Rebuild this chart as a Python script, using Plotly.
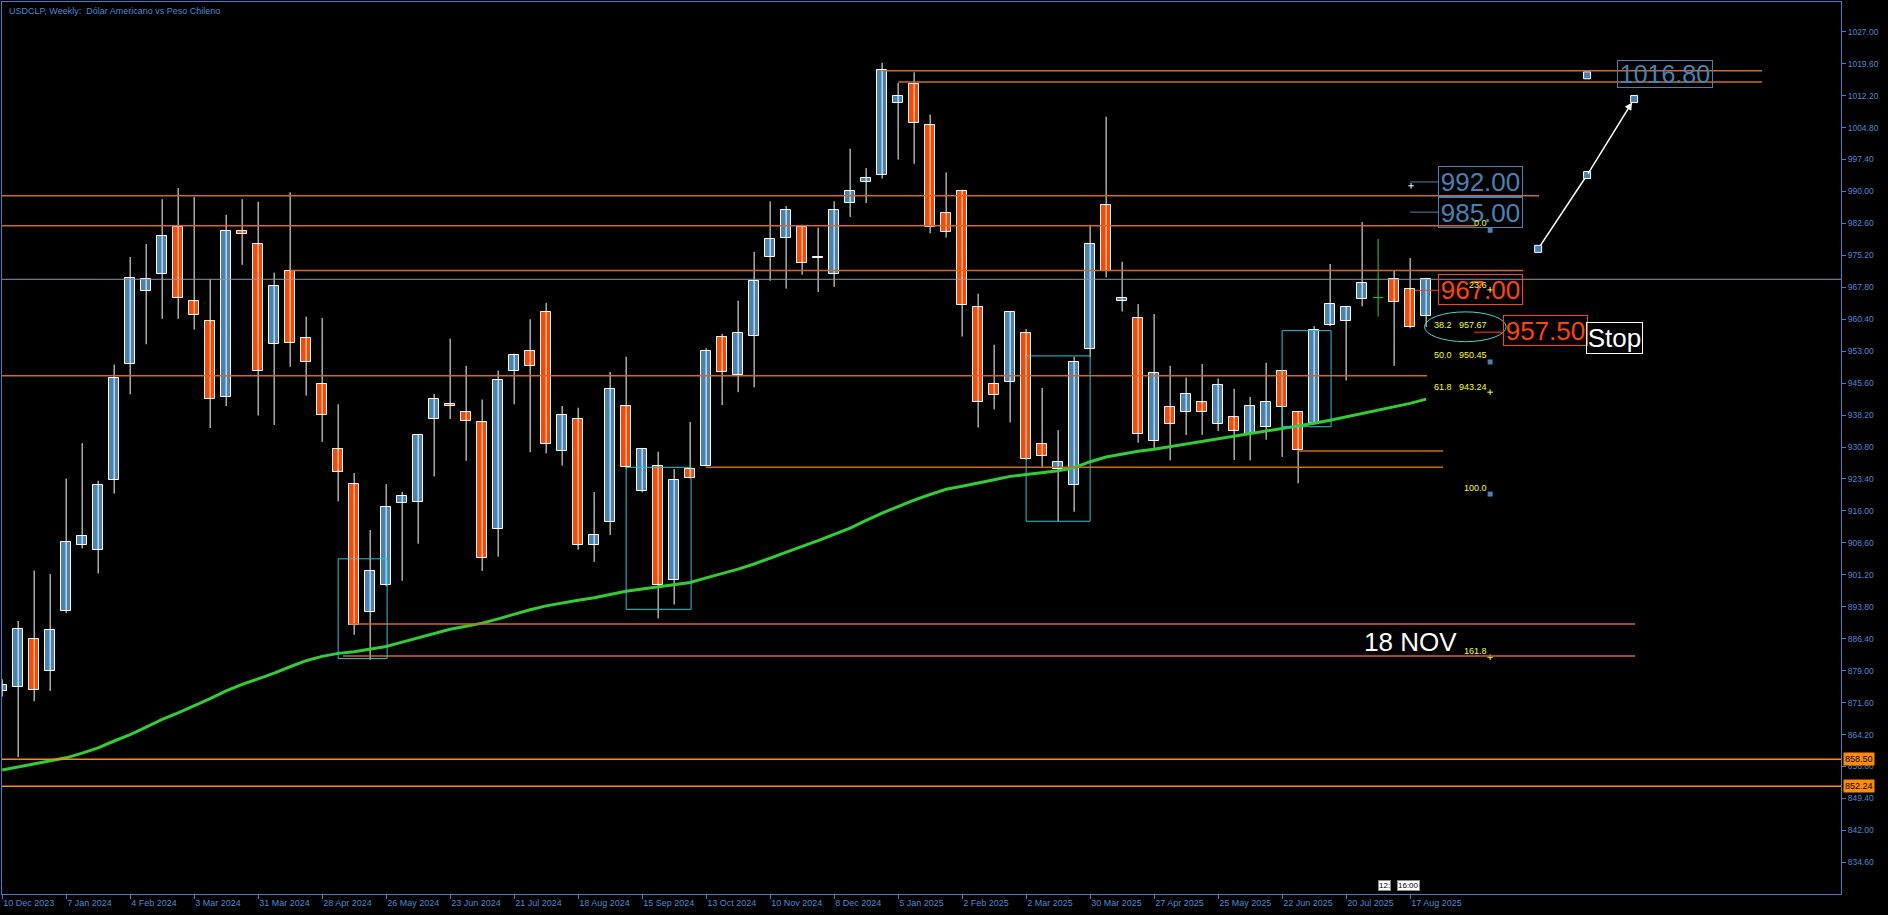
import pandas as pd
import plotly.graph_objects as go

# ---------------- data ----------------
start = pd.Timestamp("2023-12-10")
dates = pd.date_range(start, periods=90, freq="7D")

opens = [874.3, 875.1, 886.3, 879.0, 892.9, 908.0, 907.0, 923.2, 950.1, 967.0,
         970.9, 981.8, 964.6, 960.1, 942.3, 980.9, 977.8, 954.6, 971.5, 956.0,
         945.5, 930.4, 922.3, 892.5, 898.9, 917.8, 918.0, 937.4, 940.8, 938.8,
         936.7, 911.9, 948.3, 953.0, 962.0, 929.8, 937.4, 908.0, 913.5, 940.4,
         920.5, 926.3, 899.9, 925.6, 926.5, 956.2, 947.5, 956.6, 974.9, 979.3,
         981.8, 974.5, 970.9, 987.4, 992.3, 993.7, 1010.6, 1014.8, 1005.5, 985.1,
         990.2, 963.2, 945.3, 945.8, 957.3, 931.6, 925.6, 921.9, 953.6, 986.8,
         964.6, 960.6, 932.1, 940.0, 938.8, 941.2, 936.1, 937.7, 933.8, 935.5,
         948.5, 938.8, 936.3, 959.0, 959.9, 965.0, 965.4, 969.7, 967.3, 961.1]
highs = [877.0, 890.5, 902.2, 901.4, 923.5, 931.7, 923.0, 949.9, 974.8, 977.8,
         988.2, 990.8, 988.7, 969.7, 984.6, 988.2, 987.6, 971.2, 989.8, 961.0,
         960.7, 940.7, 924.8, 911.6, 922.2, 920.4, 933.8, 943.1, 955.9, 949.6,
         941.8, 948.5, 952.4, 960.4, 964.2, 940.3, 939.9, 920.4, 948.2, 951.7,
         930.6, 929.7, 925.7, 936.6, 953.7, 957.0, 964.7, 976.0, 987.7, 986.6,
         982.3, 981.6, 987.7, 999.9, 995.4, 1019.8, 1015.1, 1017.6, 1007.8, 994.4,
         990.4, 966.3, 954.5, 962.2, 958.1, 944.5, 934.7, 951.7, 982.3, 1007.3,
         973.7, 963.9, 961.6, 949.6, 946.9, 950.0, 946.7, 944.3, 942.4, 950.3,
         948.7, 939.0, 958.8, 973.2, 963.4, 982.9, 979.0, 971.6, 974.6, 970.0]
lows = [873.0, 859.0, 871.9, 874.3, 892.3, 907.3, 901.5, 920.0, 943.0, 954.6,
        960.5, 960.5, 958.0, 935.2, 940.3, 973.0, 938.1, 935.9, 949.4, 942.7,
        932.0, 918.2, 887.3, 881.5, 898.5, 899.8, 908.4, 924.0, 937.3, 927.6,
        902.1, 905.4, 940.7, 929.6, 929.3, 926.5, 907.0, 904.2, 910.4, 925.8,
        920.3, 891.1, 894.3, 923.5, 926.3, 940.5, 943.5, 944.6, 969.3, 967.5,
        970.7, 966.7, 967.9, 984.1, 987.3, 993.0, 997.4, 996.4, 980.3, 979.3,
        956.4, 935.3, 939.5, 936.5, 927.8, 926.2, 913.6, 915.8, 951.7, 970.1,
        962.2, 931.8, 930.4, 927.7, 933.6, 933.6, 934.5, 927.8, 927.7, 932.5,
        928.5, 922.4, 936.1, 958.8, 946.2, 963.4, 961.0, 949.6, 958.3, 958.6]
closes = [875.6, 888.7, 874.4, 888.3, 908.9, 910.1, 921.9, 946.9, 969.9, 969.7,
          979.6, 965.4, 961.3, 942.0, 980.9, 980.1, 948.5, 968.0, 954.8, 950.4,
          938.1, 924.9, 889.5, 902.0, 917.0, 919.4, 933.5, 942.0, 940.4, 936.9,
          905.0, 946.3, 952.0, 949.5, 931.6, 938.1, 908.0, 910.5, 944.2, 926.1,
          930.4, 898.9, 923.1, 923.7, 953.0, 948.1, 957.1, 969.3, 978.9, 985.6,
          973.5, 974.7, 985.6, 990.0, 993.1, 1018.1, 1012.2, 1005.9, 981.8, 980.6,
          963.7, 941.2, 942.9, 962.0, 928.0, 928.7, 927.4, 950.6, 977.9, 971.6,
          965.4, 933.9, 947.9, 936.1, 943.0, 939.0, 945.1, 934.4, 940.4, 941.2,
          940.0, 930.1, 957.8, 964.0, 963.2, 968.9, 965.4, 964.5, 958.5, 969.7]
ma_values = [856.0, 856.7, 857.4, 858.1, 858.8, 859.9, 861.1, 862.7, 864.2, 865.9,
             867.7, 869.2, 870.8, 872.5, 874.3, 875.8, 877.1, 878.4, 879.9, 881.3,
             882.3, 883.0, 883.4, 884.0, 884.6, 885.6, 886.6, 887.6, 888.6, 889.3,
             890.0, 891.0, 892.1, 893.1, 894.0, 894.7, 895.3, 895.9, 896.7, 897.4,
             897.9, 898.4, 898.9, 899.4, 900.5, 901.5, 902.5, 903.7, 905.1, 906.4,
             907.8, 909.1, 910.5, 912.0, 913.8, 915.5, 917.0, 918.5, 919.8, 921.0,
             921.7, 922.4, 923.2, 924.0, 924.4, 924.9, 925.3, 926.0, 927.4, 928.5,
             929.2, 929.8, 930.3, 930.9, 931.4, 932.0, 932.6, 933.2, 933.9, 934.5,
             935.1, 935.7, 936.3, 937.0, 937.8, 938.6, 939.3, 940.1, 940.9, 941.9]

hline_levels = [1017.97, 1015.35, 989.0, 982.06, 971.7, 947.3, 929.9, 926.1, 889.8, 882.4]
support_levels = [858.50, 852.24]
last_price = 969.65
fib_ratios = ["0.0", "23.6", "38.2", "50.0", "61.8", "100.0", "161.8"]
fib_prices = [981.0, 966.6, 957.67, 950.45, 943.24, 919.9, 882.1]
target_labels = ["992.00", "985.00", "967.00", "957.50", "1016.80"]
projection_prices = [976.7, 993.8, 1011.4]

ytick_vals = [834.6, 842.0, 849.4, 856.8, 864.2, 871.6, 879.0, 886.4, 893.8, 901.2,
              908.6, 916.0, 923.4, 930.8, 938.2, 945.6, 953.0, 960.4, 967.8, 975.2,
              982.6, 990.0, 997.4, 1004.8, 1012.2, 1019.6, 1027.0]
ytick_text = ["834.60", "842.00", "849.40", "856.80", "864.20", "871.60", "879.00", "886.40",
              "893.80", "901.20", "908.60", "916.00", "923.40", "930.80", "938.20", "945.60",
              "953.00", "960.40", "967.80", "975.20", "982.60", "990.00", "997.40", "1004.80",
              "1012.20", "1019.60", "1027.00"]
xtick_dates = ["2023-12-10", "2024-01-07", "2024-02-04", "2024-03-03", "2024-03-31",
               "2024-04-28", "2024-05-26", "2024-06-23", "2024-07-21", "2024-08-18",
               "2024-09-15", "2024-10-13", "2024-11-10", "2024-12-08", "2025-01-05",
               "2025-02-02", "2025-03-02", "2025-03-30", "2025-04-27", "2025-05-25",
               "2025-06-22", "2025-07-20", "2025-08-17"]
xtick_text = ["10 Dec 2023", "7 Jan 2024", "4 Feb 2024", "3 Mar 2024", "31 Mar 2024",
              "28 Apr 2024", "26 May 2024", "23 Jun 2024", "21 Jul 2024", "18 Aug 2024",
              "15 Sep 2024", "13 Oct 2024", "10 Nov 2024", "8 Dec 2024", "5 Jan 2025",
              "2 Feb 2025", "2 Mar 2025", "30 Mar 2025", "27 Apr 2025", "25 May 2025",
              "22 Jun 2025", "20 Jul 2025", "17 Aug 2025"]

# ---------------- styles ----------------
BULL = "#4682B4"
BEAR = "#FF4500"
AXC = "#3d80c8"
TXC = "#4a8ad2"
LINEC = "#D2691E"
WEEK_MS = 7 * 86400000


def wk(f):
    return (start + pd.Timedelta(days=7 * f)).strftime("%Y-%m-%d %H:%M:%S")


fig = go.Figure()

# wicks / bodies
wx, wy = [], []
bx, bbase, bh, bcol = [], [], [], []
doji_x, doji_y = [], []
for i, d in enumerate(dates):
    o, h, l, c = opens[i], highs[i], lows[i], closes[i]
    if o == c:
        doji_x += [d, d, None, d - pd.Timedelta(days=2.3), d + pd.Timedelta(days=2.3), None]
        doji_y += [l, h, None, o, o, None]
        continue
    wx += [d, d, None]
    wy += [l, h, None]
    bx.append(d)
    bbase.append(min(o, c))
    bh.append(abs(c - o))
    bcol.append(BULL if c > o else BEAR)

fig.add_trace(go.Scatter(x=wx, y=wy, mode="lines", line=dict(color="white", width=1),
                         hoverinfo="skip", showlegend=False))
fig.add_trace(go.Bar(x=bx, y=bh, base=bbase, width=0.64 * WEEK_MS,
                     marker=dict(color=bcol, line=dict(color="white", width=1)),
                     showlegend=False, hoverinfo="skip"))
fig.add_trace(go.Scatter(x=doji_x, y=doji_y, mode="lines", line=dict(color="#2ecc2e", width=1),
                         hoverinfo="skip", showlegend=False))
# moving average
fig.add_trace(go.Scatter(x=dates, y=ma_values, mode="lines",
                         line=dict(color="#32CD32", width=3), hoverinfo="skip", showlegend=False))

shapes = []
# horizontal level lines  (extent in weeks from start)
extents = [(55.0, 110.0), (56.0, 110.0), (-1, 96.06), (-1, 92.1), (18.0, 95.06),
           (-1, 89.06), (81.0, 90.06), (44.0, 90.06), (21.7, 102.06), (21.3, 102.06)]
for lvl, (a, b) in zip(hline_levels, extents):
    shapes.append(dict(type="line", xref="x", yref="y", x0=wk(a), x1=wk(b), y0=lvl, y1=lvl,
                       line=dict(color=LINEC, width=1.5)))
for lvl in support_levels:
    shapes.append(dict(type="line", xref="paper", yref="y", x0=0, x1=1, y0=lvl, y1=lvl,
                       line=dict(color="#FF8C00", width=1.5)))
shapes.append(dict(type="line", xref="paper", yref="y", x0=0, x1=1, y0=last_price, y1=last_price,
                   line=dict(color="#8a96a8", width=1)))

# cyan rectangles
rects = [(21.0, 24.06, 881.8, 904.9), (39.0, 43.06, 893.2, 926.1),
         (64.0, 68.0, 913.6, 951.9), (80.0, 83.06, 935.5, 957.76)]
for a, b, lo, hi in rects:
    shapes.append(dict(type="rect", xref="x", yref="y", x0=wk(a), x1=wk(b), y0=lo, y1=hi,
                       line=dict(color="#1fc8cf", width=1)))
# ellipse
shapes.append(dict(type="circle", xref="x", yref="y", x0=wk(88.9), x1=wk(94.0), y0=955.2, y1=962.1,
                   line=dict(color="#40d8d0", width=1)))
# leader lines
leaders = [(88.0, 89.75, 992.2, BULL), (88.0, 89.75, 985.2, BULL),
           (88.3, 89.75, 967.1, BEAR), (92.0, 93.8, 957.4, BEAR)]
for a, b, yv, col in leaders:
    shapes.append(dict(type="line", xref="x", yref="y", x0=wk(a), x1=wk(b), y0=yv, y1=yv,
                       line=dict(color=col, width=1)))

# projection polyline
proj_w = [96.0, 99.06, 102.0]
fig.add_trace(go.Scatter(x=[wk(w) for w in proj_w[:2]], y=projection_prices[:2], mode="lines",
                         line=dict(color="white", width=1.5), hoverinfo="skip", showlegend=False))
fig.add_trace(go.Scatter(x=[wk(w) for w in proj_w] + [wk(99.06)], y=projection_prices + [1016.9],
                         mode="markers",
                         marker=dict(symbol="square", size=7, color=BULL, line=dict(color="white", width=1)),
                         hoverinfo="skip", showlegend=False))
# fib markers
fig.add_trace(go.Scatter(x=[wk(93.0)] * 3, y=[981.0, 950.5, 919.9], mode="markers",
                         marker=dict(symbol="square", size=5, color=BULL),
                         hoverinfo="skip", showlegend=False))
fig.add_trace(go.Scatter(x=[wk(93.0), wk(93.0), wk(93.0)], y=[967.2, 943.5, 882.1],
                         mode="markers", marker=dict(symbol="cross-thin", size=4,
                                                     line=dict(color="#ffff60", width=1)),
                         hoverinfo="skip", showlegend=False))
fig.add_trace(go.Scatter(x=[wk(88.06)], y=[991.3],
                         mode="markers", marker=dict(symbol="cross-thin", size=4,
                                                     line=dict(color="white", width=1)),
                         hoverinfo="skip", showlegend=False))

annotations = []
# title
annotations.append(dict(xref="paper", yref="paper", x=0, y=1, xshift=5, yshift=-2,
                        xanchor="left", yanchor="top", showarrow=False,
                        text="USDCLP, Weekly:  Dólar Americano vs Peso Chileno",
                        font=dict(family="Liberation Sans", size=9, color=TXC)))
# big boxed labels
big = [(92.4, 992.3, BULL), (92.4, 985.2, BULL), (92.4, 967.3, BEAR),
       (96.44, 957.8, BEAR), (103.9, 1017.2, BULL)]
for (f, yv, col), lab in zip(big, target_labels):
    wide = lab == "1016.80"
    annotations.append(dict(xref="x", yref="y", x=wk(f), y=yv, text=lab, showarrow=False,
                            xanchor="center", yanchor="middle",
                            font=dict(family="Liberation Sans", size=25 if wide else 26, color=col),
                            bordercolor=col, borderwidth=1, borderpad=0,
                            width=94 if wide else 83, height=26 if wide else 29))
annotations.append(dict(xref="x", yref="y", x=wk(100.78), y=956.05, text="Stop", showarrow=False,
                        xanchor="center", yanchor="middle",
                        font=dict(family="Liberation Sans", size=26, color="white"),
                        bordercolor="white", borderwidth=1, borderpad=0, width=55, height=30))
annotations.append(dict(xref="x", yref="y", x=wk(88.0), y=885.6, text="18 NOV", showarrow=False,
                        xanchor="center", yanchor="middle",
                        font=dict(family="Liberation Sans", size=26, color="white")))
# fib texts
fib_text_y = [982.7, 968.3, 959.0, 952.0, 944.8, 921.4, 883.6]
for r, p, yv in zip(fib_ratios, fib_prices, fib_text_y):
    t = r if r in ("0.0", "23.6", "100.0", "161.8") else f"{r}   {p:.2f}"
    annotations.append(dict(xref="x", yref="y", x=wk(92.9), y=yv, text=t, showarrow=False,
                            xanchor="right", yanchor="middle",
                            font=dict(family="Liberation Sans", size=9, color="#FFFF00")))
# projection arrow head
annotations.append(dict(xref="x", yref="y", axref="x", ayref="y", x=wk(102.0), y=1011.4,
                        ax=wk(99.06), ay=993.8, text="", showarrow=True, arrowhead=2,
                        arrowsize=1, arrowwidth=1.5, arrowcolor="white", standoff=4))
# right-axis price boxes
for lvl in support_levels:
    annotations.append(dict(xref="paper", yref="y", x=1, y=lvl, xshift=2, xanchor="left",
                            yanchor="middle", text=f"{lvl:.2f}", showarrow=False,
                            font=dict(family="Liberation Sans", size=9, color="#000000"),
                            bgcolor="#FF8C00", borderpad=1))
# time box
annotations.append(dict(xref="paper", yref="paper", x=0.7515, y=0.0, yshift=9, xanchor="center",
                        yanchor="middle", text="12:", showarrow=False,
                        font=dict(family="Liberation Sans", size=8, color="black"),
                        bgcolor="white", bordercolor="#888", borderwidth=1, borderpad=0))
annotations.append(dict(xref="paper", yref="paper", x=0.765, y=0.0, yshift=9, xanchor="center",
                        yanchor="middle", text="16:00", showarrow=False,
                        font=dict(family="Liberation Sans", size=8, color="black"),
                        bgcolor="white", bordercolor="#888", borderwidth=1, borderpad=0))

fig.update_layout(
    width=1888, height=915,
    margin=dict(l=2, r=47, t=2, b=21),
    paper_bgcolor="black", plot_bgcolor="black",
    barmode="overlay", bargap=0,
    shapes=shapes, annotations=annotations,
    showlegend=False,
    xaxis=dict(type="date", range=[wk(-0.01), wk(114.93)], tickvals=xtick_dates, ticktext=xtick_text,
               ticks="outside", ticklen=4, tickcolor=AXC, ticklabelposition="outside right",
               tickfont=dict(family="Liberation Sans", size=9, color=TXC),
               showgrid=False, zeroline=False, showline=True, linecolor=AXC, linewidth=1,
               mirror=True, fixedrange=True),
    yaxis=dict(side="right", range=[827.26, 1033.88], tickvals=ytick_vals, ticktext=ytick_text,
               ticks="outside", ticklen=4, tickcolor=AXC,
               tickfont=dict(family="Liberation Sans", size=8.5, color=TXC),
               showgrid=False, zeroline=False, showline=True, linecolor=AXC, linewidth=1,
               mirror=True, fixedrange=True),
)

fig.write_html("out.html",
               config={"displayModeBar": False},
               post_script="document.body.style.margin='0';document.body.style.padding='0';"
                           "document.body.style.background='black';document.body.style.overflow='hidden';")
